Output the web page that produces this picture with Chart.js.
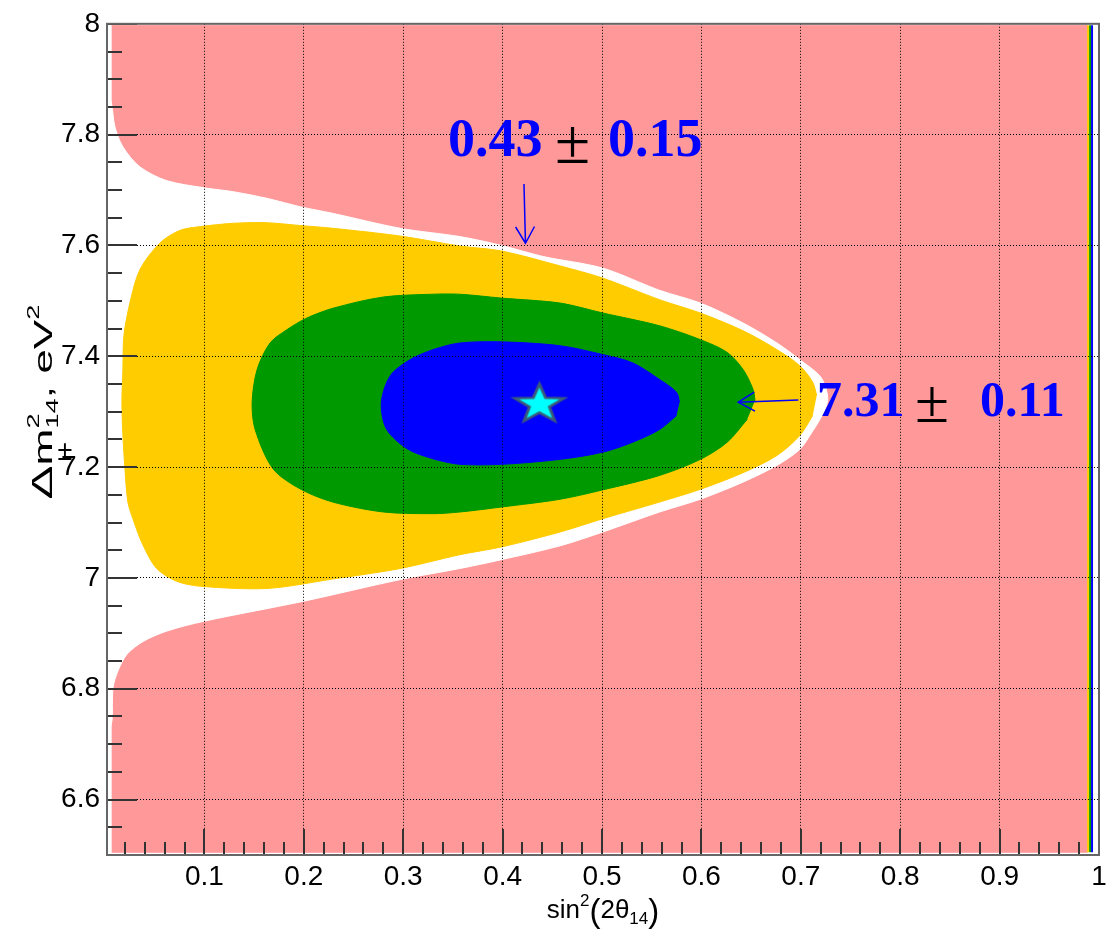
<!DOCTYPE html>
<html>
<head>
<meta charset="utf-8">
<script src="https://cdn.jsdelivr.net/npm/chart.js@4/dist/chart.umd.min.js"></script>
<style>
  html, body { margin: 0; padding: 0; background: #fff; }
</style>
</head>
<body>
<canvas id="chart" width="1119" height="936" style="width:1119px;height:936px;display:block"></canvas>
<script>
const xTicks = [0.1, 0.2, 0.3, 0.4, 0.5, 0.6, 0.7, 0.8, 0.9, 1]
const yTicks = [6.6, 6.8, 7, 7.2, 7.4, 7.6, 7.8, 8]

// pink histogram box
const boxX = [0.0067, 0.988, 0.988, 0.0067]
const boxY = [7.9975, 7.9975, 6.505, 6.505]

// white tongue cut out of the pink: lower edge to the tip, then back along the upper edge
const gapX = [0.003, 0.007, 0.008, 0.013, 0.022, 0.038, 0.062, 0.100, 0.200, 0.297,
  0.357, 0.399, 0.458, 0.501, 0.558, 0.599, 0.642, 0.676, 0.699, 0.712,
  0.722, 0.727, 0.725, 0.719, 0.699, 0.676, 0.642, 0.599, 0.558, 0.501,
  0.441, 0.399, 0.357, 0.297, 0.229, 0.196, 0.163, 0.129, 0.100, 0.062,
  0.035, 0.018, 0.010, 0.0067, 0.003]
const gapY = [6.72, 6.742, 6.801, 6.832, 6.862, 6.885, 6.904, 6.922, 6.958, 6.997,
  7.017, 7.033, 7.058, 7.083, 7.119, 7.142, 7.173, 7.203, 7.232, 7.265,
  7.295, 7.320, 7.344, 7.365, 7.394, 7.424, 7.460, 7.496, 7.519, 7.559,
  7.580, 7.600, 7.616, 7.631, 7.658, 7.670, 7.685, 7.697, 7.704, 7.717,
  7.742, 7.778, 7.814, 7.855, 7.88]

// yellow contour
const yellowX = [0.716, 0.712, 0.699, 0.676, 0.642, 0.599, 0.558, 0.501, 0.458, 0.399,
  0.357, 0.297, 0.229, 0.196, 0.163, 0.129, 0.096, 0.075, 0.055, 0.035,
  0.025, 0.019, 0.018, 0.017, 0.018, 0.020, 0.023, 0.028, 0.038, 0.052,
  0.072, 0.096, 0.163, 0.229, 0.297, 0.357, 0.399, 0.458, 0.501, 0.558,
  0.599, 0.642, 0.676, 0.699, 0.712]
const yellowY = [7.329, 7.353, 7.383, 7.412, 7.446, 7.478, 7.502, 7.541, 7.563, 7.590,
  7.599, 7.617, 7.631, 7.636, 7.641, 7.640, 7.634, 7.627, 7.604, 7.556,
  7.496, 7.437, 7.376, 7.317, 7.258, 7.198, 7.137, 7.107, 7.060, 7.017,
  6.994, 6.985, 6.981, 6.998, 7.017, 7.042, 7.056, 7.083, 7.107, 7.137,
  7.160, 7.190, 7.221, 7.257, 7.293]

// green contour
const greenX = [0.654, 0.652, 0.642, 0.626, 0.599, 0.558, 0.501, 0.458, 0.399, 0.357,
  0.330, 0.280, 0.230, 0.203, 0.183, 0.166, 0.153, 0.148, 0.151, 0.169,
  0.196, 0.229, 0.280, 0.330, 0.357, 0.399, 0.458, 0.501, 0.558, 0.599,
  0.626, 0.646]
const greenY = [7.320, 7.340, 7.376, 7.407, 7.430, 7.455, 7.478, 7.496, 7.505, 7.512,
  7.512, 7.507, 7.487, 7.469, 7.448, 7.424, 7.376, 7.317, 7.268, 7.197,
  7.161, 7.137, 7.119, 7.116, 7.119, 7.128, 7.142, 7.159, 7.185, 7.214,
  7.245, 7.286]

// blue contour
const blueX = [0.578, 0.575, 0.558, 0.531, 0.501, 0.458, 0.399, 0.357, 0.330, 0.307,
  0.287, 0.278, 0.283, 0.304, 0.330, 0.357, 0.399, 0.458, 0.501, 0.531,
  0.558, 0.575]
const blueY = [7.317, 7.335, 7.358, 7.388, 7.403, 7.419, 7.426, 7.424, 7.412, 7.394,
  7.365, 7.317, 7.269, 7.233, 7.215, 7.205, 7.205, 7.214, 7.227, 7.245,
  7.268, 7.293]

// thin coloured strips at the right edge
const stripX = [0.989, 0.991, 0.993]
const stripColors = ["#ffcc00", "#009900", "#0000ff"]
const stripY = [6.505, 7.9975]

const bestX = 0.437
const bestY = 7.315
const arrowTop = [[0.4215, 7.711], [0.423, 7.604]]
const arrowRight = [[0.6975, 7.321], [0.637, 7.317]]

const sansFont = "'Liberation Sans', Arial, sans-serif"
const serifFont = "'Liberation Serif', 'Times New Roman', serif"

function toPoints(xs, ys) {
  return xs.map((x, i) => ({x: x, y: ys[i]}))
}

function region(xs, ys, color, order, tension) {
  return {
    data: toPoints(xs, ys),
    showLine: true,
    fill: "shape",
    backgroundColor: color,
    borderColor: color,
    borderWidth: 1,
    pointRadius: 0,
    tension: tension,
    order: order
  }
}

function makeStar() {
  const c = document.createElement("canvas")
  c.width = 58
  c.height = 46
  const g = c.getContext("2d")
  g.translate(29, 24)
  g.scale(1, 0.78)
  g.beginPath()
  for (let i = 0; i < 10; i++) {
    const r = i % 2 ? 10.5 : 26
    const a = -Math.PI / 2 + i * Math.PI / 5
    g.lineTo(r * Math.cos(a), r * Math.sin(a))
  }
  g.closePath()
  g.fillStyle = "#00ffff"
  g.fill()
  g.lineWidth = 3
  g.strokeStyle = "#3c5a78"
  g.stroke()
  return c
}

function richWidth(ctx, parts) {
  let w = 0
  parts.forEach(p => {
    ctx.font = p.s + "px " + sansFont
    if (p.adv !== false) w += ctx.measureText(p.t).width
  })
  return w
}

function richDraw(ctx, parts, x0, y0) {
  let x = x0
  parts.forEach(p => {
    ctx.font = p.s + "px " + sansFont
    ctx.fillText(p.t, x, y0 + (p.dy || 0))
    if (p.adv !== false) x += ctx.measureText(p.t).width
  })
}

function arrow(ctx, from, to) {
  const ang = Math.atan2(to[1] - from[1], to[0] - from[0])
  ctx.beginPath()
  ctx.moveTo(from[0], from[1])
  ctx.lineTo(to[0], to[1])
  ctx.moveTo(to[0] - 19 * Math.cos(ang - 0.52), to[1] - 19 * Math.sin(ang - 0.52))
  ctx.lineTo(to[0], to[1])
  ctx.lineTo(to[0] - 19 * Math.cos(ang + 0.52), to[1] - 19 * Math.sin(ang + 0.52))
  ctx.stroke()
}

const rootDecor = {
  id: "rootDecor",
  afterDraw(chart) {
    const ctx = chart.ctx
    const a = chart.chartArea
    const xs = chart.scales.x
    const ys = chart.scales.y
    ctx.save()

    // tick marks drawn inside the frame
    ctx.strokeStyle = "#333"
    ctx.lineWidth = 2
    ctx.beginPath()
    for (let i = 1; i <= 50; i++) {
      const p = Math.round(xs.getPixelForValue(i * 0.02))
      ctx.moveTo(p, a.bottom)
      ctx.lineTo(p, a.bottom - (i % 5 === 0 ? 26 : 13))
    }
    for (let i = 1; i <= 30; i++) {
      const p = Math.round(ys.getPixelForValue(6.5 + i * 0.05))
      ctx.moveTo(a.left, p)
      ctx.lineTo(a.left + (i % 4 === 2 ? 30 : 15), p)
    }
    ctx.stroke()

    ctx.strokeStyle = "#666"
    ctx.lineWidth = 2
    ctx.strokeRect(a.left, a.top, a.right - a.left, a.bottom - a.top)

    // axis titles
    ctx.fillStyle = "#000"
    ctx.textBaseline = "alphabetic"
    ctx.textAlign = "left"
    const xTitle = [
      {t: "sin", s: 26}, {t: "2", s: 17, dy: -12}, {t: "(", s: 33, dy: 4},
      {t: "2\u03b8", s: 26}, {t: "14", s: 17, dy: 6}, {t: ")", s: 33, dy: 4}
    ]
    richDraw(ctx, xTitle, (a.left + a.right) / 2 - richWidth(ctx, xTitle) / 2, 918)

    const yTitle = [
      {t: "\u0394", s: 30}, {t: "m", s: 26}, {t: "2", s: 16, dy: -13, adv: false},
      {t: "14", s: 16, dy: 6}, {t: ", eV", s: 26}, {t: "2", s: 16, dy: -13}
    ]
    ctx.save()
    ctx.translate(52, 402)
    ctx.rotate(-Math.PI / 2)
    ctx.scale(1.7, 1)
    richDraw(ctx, yTitle, -richWidth(ctx, yTitle) / 2, 0)
    ctx.restore()

    ctx.font = "27px " + sansFont
    ctx.textAlign = "center"
    ctx.fillText("\u00b1", 65, 460)

    // fit result labels and arrows
    ctx.textAlign = "left"
    ctx.fillStyle = "#0000ff"
    ctx.font = "bold 54px " + serifFont
    ctx.fillText("0.43", 448, 156)
    ctx.fillText("0.15", 608, 156)
    ctx.font = "bold 50px " + serifFont
    ctx.fillText("7.31", 817, 416)
    ctx.fillText("0.11", 980, 416)
    ctx.fillStyle = "#000"
    ctx.font = "64px " + serifFont
    ctx.fillText("\u00b1", 555, 163)
    ctx.font = "62px " + serifFont
    ctx.fillText("\u00b1", 915, 422)

    ctx.strokeStyle = "#0000ff"
    ctx.lineWidth = 1.5
    const pt = v => [xs.getPixelForValue(v[0]), ys.getPixelForValue(v[1])]
    arrow(ctx, pt(arrowTop[0]), pt(arrowTop[1]))
    arrow(ctx, pt(arrowRight[0]), pt(arrowRight[1]))
    ctx.restore()
  }
}

const datasets = [
  {
    data: [{x: bestX, y: bestY}],
    pointStyle: makeStar(),
    pointRadius: 10,
    order: 0
  },
  region(blueX, blueY, "#0000ff", 2, 0.3),
  region(greenX, greenY, "#009900", 3, 0.3),
  region(yellowX, yellowY, "#ffcc00", 4, 0.3),
  region(gapX, gapY, "#ffffff", 5, 0.3),
  region(boxX, boxY, "#ff9999", 6, 0)
]
stripX.forEach((sx, i) => {
  datasets.push({
    data: stripY.map(v => ({x: sx, y: v})),
    showLine: true,
    borderColor: stripColors[i],
    borderWidth: 2,
    pointRadius: 0,
    order: 1
  })
})

const myChart = new Chart(document.getElementById("chart"), {
  type: "scatter",
  data: { datasets: datasets },
  options: {
    responsive: false,
    animation: false,
    devicePixelRatio: 1,
    events: [],
    layout: { padding: { left: 0, right: 20, top: 19, bottom: 0 } },
    plugins: { legend: { display: false }, tooltip: { enabled: false } },
    scales: {
      x: {
        type: "linear",
        min: 0.002,
        max: 1,
        afterBuildTicks: s => { s.ticks = xTicks.map(v => ({value: v})) },
        afterFit: s => { s.height = 81 },
        grid: { color: "#000", lineWidth: 1, drawTicks: false, z: 1 },
        border: { display: false, dash: [1, 2] },
        ticks: {
          color: "#000",
          font: { family: sansFont, size: 28 },
          padding: 5,
          autoSkip: false,
          maxRotation: 0,
          callback: v => String(v)
        }
      },
      y: {
        type: "linear",
        min: 6.5,
        max: 8,
        afterBuildTicks: s => { s.ticks = yTicks.map(v => ({value: v})) },
        afterFit: s => { s.width = 107 },
        grid: { color: "#000", lineWidth: 1, drawTicks: false, z: 1 },
        border: { display: false, dash: [1, 2] },
        ticks: {
          color: "#000",
          font: { family: sansFont, size: 28 },
          padding: 7,
          callback: v => String(v)
        }
      }
    }
  },
  plugins: [rootDecor]
})
</script>
</body>
</html>
